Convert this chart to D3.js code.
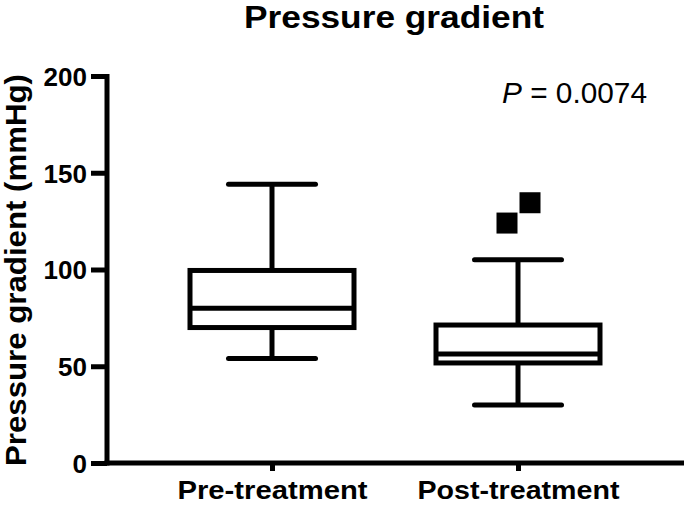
<!DOCTYPE html>
<html><head><meta charset="utf-8">
<script src="https://cdn.jsdelivr.net/npm/d3@7"></script>
<style>body{margin:0;background:#fff}svg{display:block}text{font-family:"Liberation Sans",Arial,sans-serif}</style>
</head><body>
<svg id="c" width="685" height="506"></svg>
<script>
const categories = ["Pre-treatment", "Post-treatment"];
const whiskerLow = [54, 30];
const q1 = [70, 51.7];
const median = [80, 56.3];
const q3 = [99.5, 71.3];
const whiskerHigh = [144, 105];
const outlierGroup = ["Post-treatment", "Post-treatment"];
const outlierValue = [124, 134.5];
const outlierOffset = [-11, 12];
const yTicks = [0, 50, 100, 150, 200];

(function () {
const svg = d3.select("#c");
const mLeft = 107, mBottom = 463, mTop = 76, mRight = 684;
const y = d3.scaleLinear().domain([0, 200]).range([mBottom, mTop]);
const x = d3.scalePoint().domain(categories).range([272, 518]);
const lw = 5;
const ff = "'Liberation Sans', Arial, sans-serif";

// axes
const yAxis = svg.append("g").attr("transform", `translate(${mLeft},0)`)
  .call(d3.axisLeft(y).tickValues(yTicks).tickSize(16).tickPadding(4));
yAxis.select(".domain").remove();
yAxis.selectAll("line").attr("stroke", "#000").attr("stroke-width", lw);
yAxis.selectAll("text").attr("font-size", 26).attr("font-weight", "bold").attr("fill", "#000").attr("dy", "0.36em")
  .style("font-family", ff);
svg.append("line").attr("x1", mLeft).attr("x2", mLeft).attr("y1", mTop - 2).attr("y2", mBottom + 2.5)
  .attr("stroke", "#000").attr("stroke-width", lw);

const xLabelW = { "Pre-treatment": 190, "Post-treatment": 202 };
const xAxis = svg.append("g").attr("transform", `translate(0,${mBottom})`)
  .call(d3.axisBottom(x).tickSize(8).tickPadding(10));
xAxis.select(".domain").remove();
xAxis.selectAll("line").attr("stroke", "#000").attr("stroke-width", lw);
xAxis.selectAll("text").attr("font-size", 26).attr("font-weight", "bold").attr("fill", "#000")
  .attr("textLength", d => xLabelW[d]).attr("lengthAdjust", "spacingAndGlyphs")
  .style("font-family", ff);
svg.append("line").attr("x1", mLeft - 2.5).attr("x2", mRight).attr("y1", mBottom).attr("y2", mBottom)
  .attr("stroke", "#000").attr("stroke-width", lw);

// boxes
const boxW = 164, capW = 87;
categories.forEach((c, i) => {
  const cx = x(c);
  const g = svg.append("g").attr("stroke", "#000").attr("stroke-width", lw).attr("fill", "none");
  g.append("line").attr("x1", cx).attr("x2", cx).attr("y1", y(whiskerHigh[i])).attr("y2", y(q3[i]));
  g.append("line").attr("x1", cx).attr("x2", cx).attr("y1", y(q1[i])).attr("y2", y(whiskerLow[i]));
  g.append("line").attr("x1", cx - capW / 2).attr("x2", cx + capW / 2).attr("y1", y(whiskerHigh[i])).attr("y2", y(whiskerHigh[i])).attr("stroke-linecap", "round");
  g.append("line").attr("x1", cx - capW / 2).attr("x2", cx + capW / 2).attr("y1", y(whiskerLow[i])).attr("y2", y(whiskerLow[i])).attr("stroke-linecap", "round");
  g.append("rect").attr("x", cx - boxW / 2).attr("width", boxW).attr("y", y(q3[i])).attr("height", y(q1[i]) - y(q3[i])).attr("fill", "#fff");
  g.append("line").attr("x1", cx - boxW / 2).attr("x2", cx + boxW / 2).attr("y1", y(median[i])).attr("y2", y(median[i]));
});

// outliers
const sq = 21;
outlierValue.forEach((v, i) => {
  svg.append("rect").attr("x", x(outlierGroup[i]) + outlierOffset[i] - sq / 2).attr("y", y(v) - sq / 2)
    .attr("width", sq).attr("height", sq).attr("fill", "#000");
});

// title
svg.append("text").attr("x", 394).attr("y", 28).attr("text-anchor", "middle")
  .attr("font-size", 31).attr("font-weight", "bold")
  .attr("textLength", 300).attr("lengthAdjust", "spacingAndGlyphs").text("Pressure gradient");

// y label
svg.append("text").attr("transform", `translate(26,270) rotate(-90)`).attr("text-anchor", "middle")
  .attr("font-size", 29).attr("font-weight", "bold")
  .attr("textLength", 392).attr("lengthAdjust", "spacingAndGlyphs").text("Pressure gradient (mmHg)");

// P value
const pt = svg.append("text").attr("x", 502).attr("y", 103).attr("font-size", 29)
  .attr("textLength", 145).attr("lengthAdjust", "spacingAndGlyphs");
pt.append("tspan").attr("font-style", "italic").text("P");
pt.append("tspan").text(" = 0.0074");
})();
</script>
</body></html>
